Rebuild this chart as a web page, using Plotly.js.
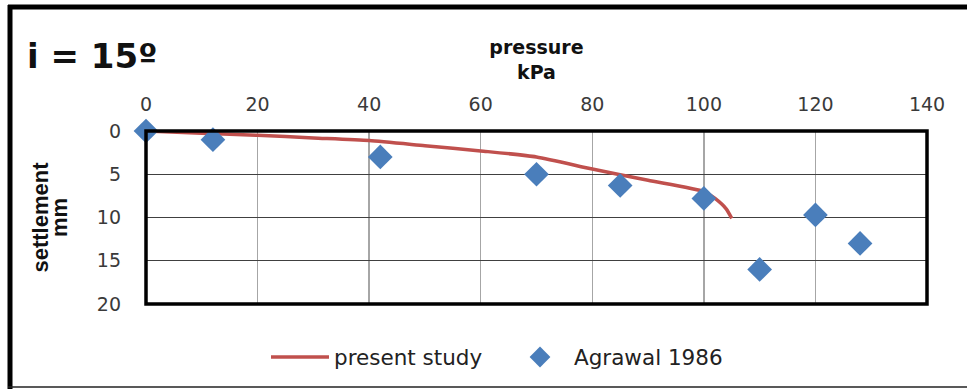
<!DOCTYPE html>
<html>
<head>
<meta charset="utf-8">
<script src="https://cdn.plot.ly/plotly-3.0.1.min.js"></script>
<style>html,body{margin:0;padding:0;background:#fff;}#chart{width:967px;height:389px;}</style>
</head>
<body>
<div id="chart"></div>
<script>
// present study curve
var studyPressure = [0, 10, 20, 30, 40, 50, 60, 70, 80, 90, 100, 102, 104, 105];
var studySettlement = [0, 0.25, 0.5, 0.8, 1.1, 1.7, 2.3, 3.0, 4.4, 5.7, 7.0, 7.8, 9.0, 10.1];
// Agrawal 1986 points
var agrawalPressure = [0, 12, 42, 70, 85, 100, 110, 120, 128];
var agrawalSettlement = [0, 1, 3, 5, 6.3, 7.8, 16, 9.7, 13];
var xTicks = [0, 20, 40, 60, 80, 100, 120, 140];
var yTicks = [0, 5, 10, 15, 20];

var traces = [
  {x: studyPressure, y: studySettlement, name: 'present study', type: 'scatter', mode: 'lines',
   line: {color: '#c0504d', width: 3.5, shape: 'spline', smoothing: 0.6}},
  {x: agrawalPressure, y: agrawalSettlement, name: 'Agrawal 1986', type: 'scatter', mode: 'markers',
   marker: {symbol: 'diamond', size: 19, color: '#4a7ebb'}, cliponaxis: false}
];

var px = function(p){ return (p - 146) / 781; };
var py = function(p){ return (304 - p) / 173; };
var FONT = '"DejaVu Sans", Verdana, sans-serif';

var layout = {
  width: 967, height: 389,
  margin: {l: 146, r: 40, t: 131, b: 85},
  paper_bgcolor: '#fff', plot_bgcolor: '#fff',
  font: {family: FONT, size: 19, color: '#3a3a3a'},
  title: {text: '<b>i = 15º</b>', font: {family: FONT, size: 34, color: '#111'},
          x: 27/967, xanchor: 'left', xref: 'container', y: 1 - 56/389, yanchor: 'middle', yref: 'container'},
  xaxis: {side: 'top', range: [0, 140], tickvals: xTicks, ticks: '', ticklabelstandoff: 15,
          tickfont: {family: FONT, size: 19, color: '#3a3a3a'},
          showgrid: true, gridcolor: '#a6a6a6', gridwidth: 1.5, zeroline: false, showline: false,
          title: {text: '<b>pressure<br>kPa</b>', standoff: 8, font: {family: FONT, size: 19, color: '#111'}}},
  yaxis: {range: [20, 0], tickvals: yTicks, ticks: '', ticklabelstandoff: 24,
          tickfont: {family: FONT, size: 19, color: '#3a3a3a'},
          showgrid: true, gridcolor: '#404040', gridwidth: 1.3, zeroline: false, showline: false,
          title: {text: '<span style="font-size:22px"><b>settlement</b></span><br><span style="font-size:22px"><b>mm</b></span>', standoff: 25,
                  font: {family: '"Liberation Sans", Arial, sans-serif', size: 15, color: '#111'}}},
  showlegend: true,
  legend: {orientation: 'h', x: 506/967, xanchor: 'center', xref: 'container', y: 1 - 357/389, yanchor: 'middle', yref: 'container',
           itemwidth: 58, entrywidth: 167, font: {family: FONT, size: 21.5, color: '#222'}, bgcolor: 'rgba(0,0,0,0)'},
  shapes: [
    {type: 'rect', xref: 'paper', yref: 'paper', x0: 0, x1: 1, y0: 0, y1: 1, line: {color: '#000', width: 3.5}},
    {type: 'line', xref: 'paper', yref: 'paper', x0: px(8), x1: px(967), y0: py(7), y1: py(7), line: {color: '#000', width: 5}},
    {type: 'line', xref: 'paper', yref: 'paper', x0: px(10), x1: px(10), y0: py(5), y1: py(389), line: {color: '#000', width: 5}},
    {type: 'line', xref: 'paper', yref: 'paper', x0: px(8), x1: px(967), y0: py(387), y1: py(387), line: {color: '#222', width: 1.5}}
  ]
};

Plotly.newPlot('chart', traces, layout, {displayModeBar: false, staticPlot: true});
</script>
</body>
</html>
